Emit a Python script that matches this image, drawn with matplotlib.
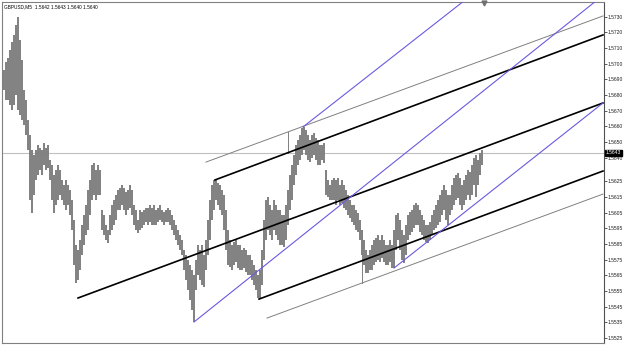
import numpy as np
import matplotlib
matplotlib.use("Agg")
import matplotlib.pyplot as plt

# bar index (one bar per pixel column, sampled every 2 bars)
bars = list(range(4, 484, 2))

high = [
    1.56959, 1.57010, 1.57036, 1.57087, 1.57138, 1.57183, 1.57247, 1.57298, 1.57151, 1.57023,
    1.56832, 1.56768, 1.56640, 1.56545, 1.56449, 1.56417, 1.56449, 1.56481, 1.56462, 1.56449,
    1.56494, 1.56462, 1.56481, 1.56385, 1.56353, 1.56290, 1.56321, 1.56353, 1.56321, 1.56258,
    1.56226, 1.56258, 1.56226, 1.56194, 1.56130, 1.56002, 1.55843, 1.55811, 1.55875, 1.55971,
    1.56034, 1.56098, 1.56194, 1.56258, 1.56353, 1.56366, 1.56321, 1.56353, 1.56321, 1.56066,
    1.56034, 1.55971, 1.55939, 1.56034, 1.56098, 1.56130, 1.56162, 1.56194, 1.56207, 1.56226,
    1.56207, 1.56181, 1.56194, 1.56226, 1.56194, 1.56098, 1.56066, 1.56002, 1.56066, 1.56053,
    1.56066, 1.56079, 1.56079, 1.56098, 1.56079, 1.56098, 1.56066, 1.56079, 1.56098, 1.56066,
    1.56053, 1.56066, 1.56079, 1.56066, 1.56034, 1.56002, 1.55971, 1.55939, 1.55907, 1.55875,
    1.55811, 1.55779, 1.55747, 1.55715, 1.55683, 1.55652, 1.55747, 1.55843, 1.55811, 1.55843,
    1.55779, 1.55875, 1.56002, 1.56130, 1.56226, 1.56258, 1.56258, 1.56239, 1.56226, 1.56194,
    1.56162, 1.56066, 1.55939, 1.55875, 1.55843, 1.55862, 1.55875, 1.55843, 1.55843, 1.55811,
    1.55824, 1.55811, 1.55779, 1.55779, 1.55747, 1.55715, 1.55683, 1.55652, 1.55683, 1.55811,
    1.56002, 1.56130, 1.56149, 1.56098, 1.56066, 1.56130, 1.56098, 1.56066, 1.56066, 1.56034,
    1.56034, 1.56098, 1.56194, 1.56290, 1.56353, 1.56417, 1.56481, 1.56513, 1.56545, 1.56589,
    1.56596, 1.56577, 1.56545, 1.56513, 1.56545, 1.56557, 1.56526, 1.56513, 1.56481, 1.56481,
    1.56494, 1.56321, 1.56258, 1.56226, 1.56258, 1.56270, 1.56258, 1.56270, 1.56226, 1.56258,
    1.56226, 1.56194, 1.56162, 1.56130, 1.56098, 1.56098, 1.56066, 1.56047, 1.56002, 1.55939,
    1.55875, 1.55811, 1.55779, 1.55811, 1.55843, 1.55875, 1.55888, 1.55907, 1.55875, 1.55907,
    1.55875, 1.55843, 1.55843, 1.55875, 1.55843, 1.55939, 1.56034, 1.56047, 1.56002, 1.55939,
    1.55907, 1.55971, 1.56034, 1.56053, 1.56066, 1.56098, 1.56111, 1.56098, 1.56066, 1.56034,
    1.56002, 1.55971, 1.55971, 1.55990, 1.56034, 1.56066, 1.56098, 1.56130, 1.56162, 1.56194,
    1.56226, 1.56194, 1.56162, 1.56162, 1.56226, 1.56270, 1.56290, 1.56302, 1.56270, 1.56226,
    1.56258, 1.56290, 1.56321, 1.56309, 1.56353, 1.56398, 1.56417, 1.56385, 1.56430, 1.56449,
]

low = [
    1.56832, 1.56768, 1.56768, 1.56736, 1.56704, 1.56736, 1.56800, 1.56704, 1.56672, 1.56640,
    1.56609, 1.56545, 1.56449, 1.56130, 1.56047, 1.56162, 1.56258, 1.56290, 1.56321, 1.56290,
    1.56353, 1.56321, 1.56334, 1.56258, 1.56130, 1.56047, 1.56098, 1.56130, 1.56162, 1.56130,
    1.56098, 1.56066, 1.56098, 1.56034, 1.55939, 1.55715, 1.55601, 1.55620, 1.55683, 1.55779,
    1.55843, 1.55907, 1.55939, 1.56034, 1.56130, 1.56162, 1.56130, 1.56162, 1.56162, 1.55939,
    1.55907, 1.55875, 1.55856, 1.55907, 1.55939, 1.55971, 1.56002, 1.56066, 1.56066, 1.56098,
    1.56066, 1.56034, 1.56066, 1.56079, 1.56034, 1.55971, 1.55939, 1.55920, 1.55939, 1.55951,
    1.55971, 1.55990, 1.55971, 1.55990, 1.55971, 1.55971, 1.55971, 1.55990, 1.56002, 1.55990,
    1.55971, 1.55990, 1.55990, 1.55971, 1.55939, 1.55907, 1.55875, 1.55843, 1.55811, 1.55779,
    1.55683, 1.55620, 1.55556, 1.55492, 1.55428, 1.55352, 1.55556, 1.55652, 1.55620, 1.55588,
    1.55575, 1.55683, 1.55779, 1.55875, 1.56002, 1.56066, 1.56130, 1.56098, 1.56066, 1.56034,
    1.55939, 1.55811, 1.55715, 1.55703, 1.55683, 1.55715, 1.55734, 1.55696, 1.55683, 1.55683,
    1.55696, 1.55671, 1.55652, 1.55652, 1.55620, 1.55588, 1.55556, 1.55505, 1.55498, 1.55588,
    1.55747, 1.55875, 1.55939, 1.55907, 1.55875, 1.55939, 1.55907, 1.55875, 1.55843, 1.55843,
    1.55830, 1.55875, 1.55971, 1.56066, 1.56130, 1.56226, 1.56290, 1.56353, 1.56385, 1.56417,
    1.56449, 1.56417, 1.56385, 1.56372, 1.56398, 1.56417, 1.56385, 1.56353, 1.56353, 1.56385,
    1.56366, 1.56162, 1.56149, 1.56130, 1.56130, 1.56130, 1.56098, 1.56130, 1.56098, 1.56111,
    1.56079, 1.56066, 1.56034, 1.56015, 1.55990, 1.55971, 1.55939, 1.55926, 1.55875, 1.55779,
    1.55715, 1.55664, 1.55664, 1.55683, 1.55683, 1.55715, 1.55734, 1.55747, 1.55734, 1.55760,
    1.55734, 1.55715, 1.55715, 1.55734, 1.55696, 1.55696, 1.55811, 1.55875, 1.55811, 1.55747,
    1.55728, 1.55779, 1.55875, 1.55907, 1.55926, 1.55951, 1.55971, 1.55971, 1.55926, 1.55907,
    1.55875, 1.55862, 1.55856, 1.55875, 1.55907, 1.55939, 1.55951, 1.55971, 1.55990, 1.56034,
    1.56066, 1.56002, 1.55971, 1.56034, 1.56066, 1.56098, 1.56130, 1.56143, 1.56098, 1.56066,
    1.56098, 1.56130, 1.56162, 1.56130, 1.56162, 1.56226, 1.56149, 1.56226, 1.56290, 1.56353,
]

# trend lines: (bar0, price0, bar1, price1)
black_lines = [
    (215, 1.56258, 603, 1.57183),
    (78, 1.55505, 603, 1.56749),
    (259, 1.55498, 603, 1.56315),
]
gray_lines = [
    (206, 1.56372, 603, 1.57304),
    (267, 1.55377, 603, 1.56168),
    (288, 1.56564, 288, 1.56430),
    (362, 1.55939, 362, 1.55601),
]
blue_lines = [
    (194, 1.55352, 600, 1.57420),
    (303, 1.56596, 470, 1.57430),
    (394, 1.55696, 603, 1.56749),
]

last_price = 1.5643
shift_bar = 484
title_text = "GBPUSD,M5  1.5642 1.5643 1.5640 1.5640"
tick_vals = [1.5730, 1.5720, 1.5710, 1.5700, 1.5690, 1.5680, 1.5670, 1.5660, 1.5650, 1.5640,
             1.5625, 1.5615, 1.5605, 1.5595, 1.5585, 1.5575, 1.5565, 1.5555, 1.5545, 1.5535, 1.5525]

W, H = 625, 346
fig = plt.figure(figsize=(W / 100, H / 100), dpi=100)
ax = fig.add_axes([2 / W, 3 / H, 602 / W, 341 / H])
ax.set_xlim(2, 604)
ax.set_ylim(1.55218, 1.57393)

font = ['Liberation Sans', 'DejaVu Sans']

ax.axhline(last_price, color='#c0c0c0', lw=0.8, zorder=1)
ax.vlines(bars, low, high, color='#808080', lw=1.4, zorder=2)

for x0, y0, x1, y1 in gray_lines:
    ax.plot([x0, x1], [y0, y1], color='#808080', lw=0.7, zorder=3)
for x0, y0, x1, y1 in black_lines:
    ax.plot([x0, x1], [y0, y1], color='black', lw=1.2, zorder=4)
for x0, y0, x1, y1 in blue_lines:
    ax.plot([x0, x1], [y0, y1], color='#6a5ae0', lw=0.8, zorder=4)

# chart shift marker at the top
ax.plot([shift_bar], [1.57385], marker='v', ms=3.5, color='#707070', zorder=5, clip_on=False)

ax.yaxis.tick_right()
ax.set_yticks(tick_vals)
ax.set_yticklabels([f"{v:.4f}" for v in tick_vals], fontsize=3.6, family=font, color='#202020')
ax.tick_params(axis='y', length=2.0, width=0.6, color='#404040', pad=0.6)
ax.set_xticks([])
for s in ax.spines.values():
    s.set_color('#808080')
    s.set_linewidth(0.8)
ax.spines['right'].set_color('#505050')

ax.text(4, 1.57393 - 0.00012, title_text, fontsize=3.4, family=font, va='top', ha='left', color='black')
ax.text(606, last_price, f"{last_price:.4f}", fontsize=3.6, family=font, va='center', ha='left',
        color='white', clip_on=False,
        bbox=dict(boxstyle='square,pad=0.15', fc='black', ec='black'))

fig.savefig("out.png", dpi=100, facecolor='white')
